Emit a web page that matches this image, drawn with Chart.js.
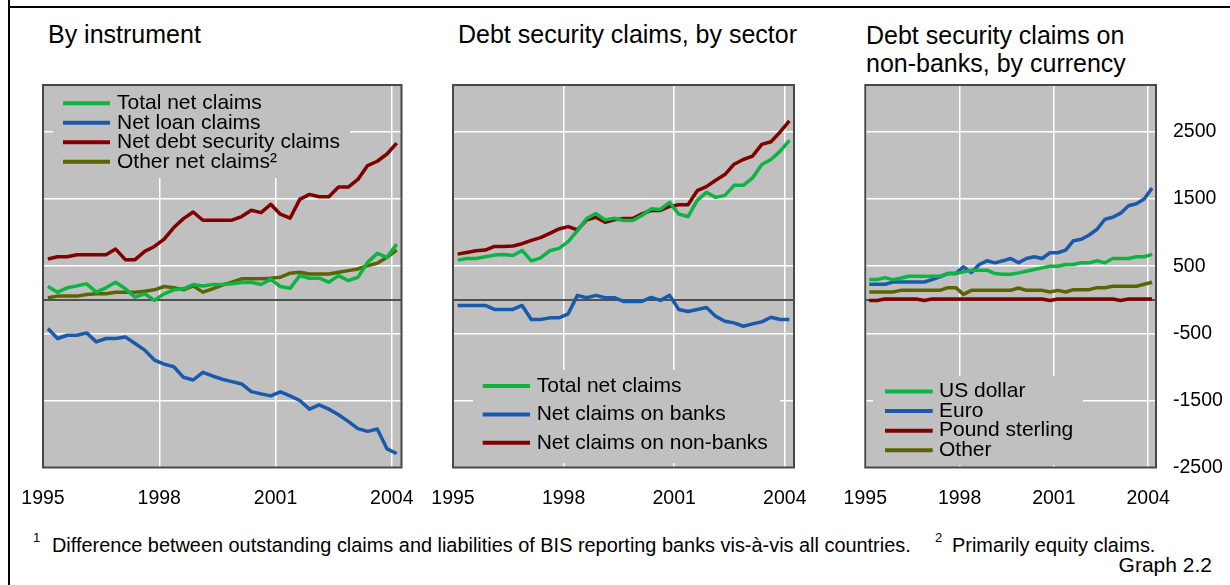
<!DOCTYPE html>
<html><head><meta charset="utf-8">
<script src="https://cdn.jsdelivr.net/npm/chart.js@4.4.1/dist/chart.umd.min.js"></script>
<style>
html,body{margin:0;padding:0;background:#fff;overflow:hidden;}
#wrap{position:relative;width:1230px;height:585px;overflow:hidden;font-family:'Liberation Sans',Arial,sans-serif;color:#000;}
.t{position:absolute;font-size:25px;line-height:25px;white-space:nowrap;}
.fn{position:absolute;font-size:19.9px;line-height:20px;white-space:nowrap;}
.sup{position:absolute;font-size:13px;line-height:13px;}
canvas{position:absolute;top:0;}
.vl{position:absolute;left:8px;top:0;width:2px;height:585px;background:#000;}
.hl{position:absolute;left:8px;top:6px;width:1222px;height:2px;background:#000;}
</style></head>
<body><div id="wrap">
<div class="vl"></div><div class="hl"></div>
<div class="t" style="left:48px;top:21.8px;">By instrument</div>
<div class="t" style="left:458px;top:21.8px;">Debt security claims, by sector</div>
<div class="t" style="left:866px;top:20.8px;line-height:28px;">Debt security claims on<br>non-banks, by currency</div>
<canvas id="c1" width="430" height="520" style="left:0px"></canvas>
<canvas id="c2" width="400" height="520" style="left:430px"></canvas>
<canvas id="c3" width="400" height="520" style="left:830px"></canvas>
<div class="sup" style="left:33px;top:531px;">1</div>
<div class="fn" style="left:52px;top:535px;">Difference between outstanding claims and liabilities of BIS reporting banks vis-à-vis all countries.</div>
<div class="sup" style="left:935px;top:531px;">2</div>
<div class="fn" style="left:952px;top:535px;">Primarily equity claims.</div>
<div class="fn" style="right:18px;top:555px;font-size:21px;">Graph 2.2</div>
</div>
<script>
const quarters = ['1995Q1','1995Q2','1995Q3','1995Q4','1996Q1','1996Q2','1996Q3','1996Q4','1997Q1','1997Q2','1997Q3','1997Q4','1998Q1','1998Q2','1998Q3','1998Q4','1999Q1','1999Q2','1999Q3','1999Q4','2000Q1','2000Q2','2000Q3','2000Q4','2001Q1','2001Q2','2001Q3','2001Q4','2002Q1','2002Q2','2002Q3','2002Q4','2003Q1','2003Q2','2003Q3','2003Q4','2004Q1'];
const yearTicks = [1995, 1998, 2001, 2004];
const valueTicks = [-2500, -1500, -500, 0, 500, 1500, 2500];

// Panel 1: By instrument
const totalNetClaims = [197,113,178,207,237,113,178,261,163,39,89,-10,89,148,163,227,205,227,227,237,256,261,227,306,197,170,360,321,321,261,360,286,335,557,691,632,829];
const netLoanClaims = [-430,-578,-529,-529,-494,-628,-578,-578,-554,-652,-751,-899,-959,-998,-1156,-1196,-1081,-1136,-1185,-1221,-1255,-1369,-1403,-1433,-1373,-1433,-1502,-1630,-1566,-1630,-1714,-1813,-1921,-1961,-1926,-2222,-2292];
const netDebtSecurityClaims = [607,641,641,671,671,671,671,755,597,597,720,794,903,1076,1209,1308,1185,1185,1185,1185,1240,1333,1298,1422,1274,1215,1496,1570,1535,1535,1679,1679,1793,2000,2064,2172,2335];
const otherNetClaims = [30,54,54,54,79,89,89,113,113,113,128,148,197,178,148,207,113,163,217,261,311,311,311,321,335,395,410,385,385,385,410,434,459,508,543,632,741];

// Panel 2: Debt security claims, by sector
const debtTotalNetClaims = [590,615,615,640,665,675,660,735,580,625,730,765,865,1030,1210,1285,1190,1215,1180,1180,1255,1355,1345,1450,1275,1240,1480,1600,1525,1555,1705,1705,1815,2015,2090,2215,2375];
const netClaimsOnBanks = [-85,-85,-85,-85,-145,-145,-145,-85,-295,-295,-270,-270,-210,65,30,65,30,30,-25,-25,-25,35,-10,65,-145,-175,-145,-115,-245,-320,-345,-395,-360,-330,-260,-295,-295];
const netClaimsOnNonBanks = [680,705,730,740,795,795,800,835,885,925,990,1055,1090,1040,1190,1230,1155,1190,1210,1210,1280,1330,1330,1390,1415,1415,1625,1685,1780,1865,2020,2090,2140,2315,2355,2500,2665];

// Panel 3: Debt security claims on non-banks, by currency
const usDollar = [300,300,330,300,320,350,350,350,350,350,390,390,415,440,440,440,390,380,380,400,425,450,475,500,500,525,525,550,550,580,550,615,615,615,640,640,675];
const euro = [230,230,230,265,265,265,265,265,300,340,390,390,490,405,525,580,550,580,615,550,615,640,615,700,700,740,880,900,965,1050,1200,1230,1290,1400,1430,1500,1665];
const poundSterling = [-10,-10,10,10,10,10,10,-10,10,10,10,10,10,10,10,10,10,10,10,10,10,10,10,-10,10,10,10,10,10,10,10,10,-10,10,10,10,10];
const otherCurrency = [115,115,115,115,140,140,140,140,140,140,180,180,80,140,140,140,140,140,140,175,140,140,140,115,140,115,150,150,150,180,180,200,200,200,200,230,260];

const GREEN = '#0cb443', BLUE = '#1a5aaa', RED = '#800000', OLIVE = '#5a6400';
const FONT = "'Liberation Sans', Arial, sans-serif";

function qx(q) { const p = q.split('Q'); return +p[0] + (+p[1] - 0.5) / 4; }
function series(label, values, color) {
  return { label, data: values.map((v, i) => ({ x: qx(quarters[i]), y: v })),
    borderColor: color, backgroundColor: color, borderWidth: 3.5, pointRadius: 0,
    tension: 0, fill: false, borderJoinStyle: 'round', borderCapStyle: 'butt' };
}

const decoPlugin = {
  id: 'deco',
  beforeDraw(chart) {
    const a = chart.chartArea, ctx = chart.ctx;
    ctx.save(); ctx.fillStyle = '#c0c0c0';
    ctx.fillRect(a.left, a.top, a.right - a.left, a.bottom - a.top); ctx.restore();
  },
  beforeDatasetsDraw(chart) {
    const L = chart.options.plugins.deco, a = chart.chartArea, ctx = chart.ctx;
    const ox = a.left, oy = L.fromBottom ? a.bottom : a.top;
    ctx.save();
    ctx.fillStyle = '#c0c0c0';
    ctx.fillRect(ox + L.box[0], oy + L.box[1], L.box[2], L.box[3]);
    ctx.font = '21px ' + FONT; ctx.textBaseline = 'alphabetic'; ctx.textAlign = 'left';
    chart.data.datasets.forEach((ds, j) => {
      const y = oy + L.y0 + j * L.dy;
      ctx.strokeStyle = ds.borderColor; ctx.lineWidth = 4;
      ctx.beginPath(); ctx.moveTo(ox + L.x0, y); ctx.lineTo(ox + L.x1, y); ctx.stroke();
      ctx.fillStyle = '#000';
      ctx.fillText(ds.label, ox + L.tx, y + 5.7);
    });
    ctx.restore();
  },
  afterDraw(chart) {
    const a = chart.chartArea, ctx = chart.ctx;
    ctx.save(); ctx.strokeStyle = '#484848'; ctx.lineWidth = 2;
    ctx.strokeRect(a.left, a.top, a.right - a.left, a.bottom - a.top); ctx.restore();
  }
};

function makeChart(id, datasets, legend, pad, showY, yWidth) {
  new Chart(document.getElementById(id), {
    type: 'line',
    data: { datasets },
    plugins: [decoPlugin],
    options: {
      responsive: false, devicePixelRatio: 1, animation: false,
      layout: { padding: pad },
      plugins: { legend: { display: false }, tooltip: { enabled: false }, deco: legend },
      scales: {
        x: {
          type: 'linear', min: 1995, max: 2004.25,
          afterBuildTicks: s => { s.ticks = yearTicks.map(v => ({ value: v })); },
          afterFit: s => { s.height = 52.5; },
          ticks: { callback: v => String(v), font: { family: FONT, size: 19.5 }, color: '#000',
            padding: 0, maxRotation: 0, minRotation: 0, autoSkip: false },
          grid: { color: '#ffffff', lineWidth: 1.5, drawTicks: true, tickLength: 19.5,
            tickColor: 'rgba(0,0,0,0)' },
          border: { display: false }
        },
        y: {
          type: 'linear', min: -2500, max: 3200, position: showY ? 'right' : 'left',
          afterBuildTicks: s => { s.ticks = valueTicks.map(v => ({ value: v })); },
          afterFit: s => { s.width = yWidth; },
          ticks: { display: showY, callback: v => v === 0 ? '' : String(v),
            font: { family: FONT, size: 19.5 }, color: '#000', padding: 0 },
          grid: { color: c => (c.tick && c.tick.value === 0) ? '#505050' : '#ffffff',
            lineWidth: c => (c.tick && c.tick.value === 0) ? 2 : 1.5, drawTicks: true,
            tickLength: 17, tickColor: 'rgba(0,0,0,0)' },
          border: { display: false }
        }
      }
    }
  });
}

makeChart('c1', [
  series('Total net claims', totalNetClaims, GREEN),
  series('Net loan claims', netLoanClaims, BLUE),
  series('Net debt security claims', netDebtSecurityClaims, RED),
  series('Other net claims\u00b2', otherNetClaims, OLIVE)
], { fromBottom: false, box: [10, 0, 297, 93], x0: 20, x1: 67, tx: 74, y0: 18.3, dy: 19.5 },
{ left: 43, top: 85, right: 28.5, bottom: 0 }, false, 0);

makeChart('c2', [
  series('Total net claims', debtTotalNetClaims, GREEN),
  series('Net claims on banks', netClaimsOnBanks, BLUE),
  series('Net claims on non-banks', netClaimsOnNonBanks, RED)
], { fromBottom: true, box: [20, -97.5, 307, 93], x0: 29.7, x1: 77, tx: 83.7, y0: -81.5, dy: 28.4 },
{ left: 23, top: 85, right: 36, bottom: 0 }, false, 0);

makeChart('c3', [
  series('US dollar', usDollar, GREEN),
  series('Euro', euro, BLUE),
  series('Pound sterling', poundSterling, RED),
  series('Other', otherCurrency, OLIVE)
], { fromBottom: true, box: [7.7, -91.5, 210, 89], x0: 19.7, x1: 67.4, tx: 73.7, y0: -76, dy: 19.6 },
{ left: 35.3, top: 85, right: 0, bottom: 0 }, true, 74);
</script>
</body></html>
